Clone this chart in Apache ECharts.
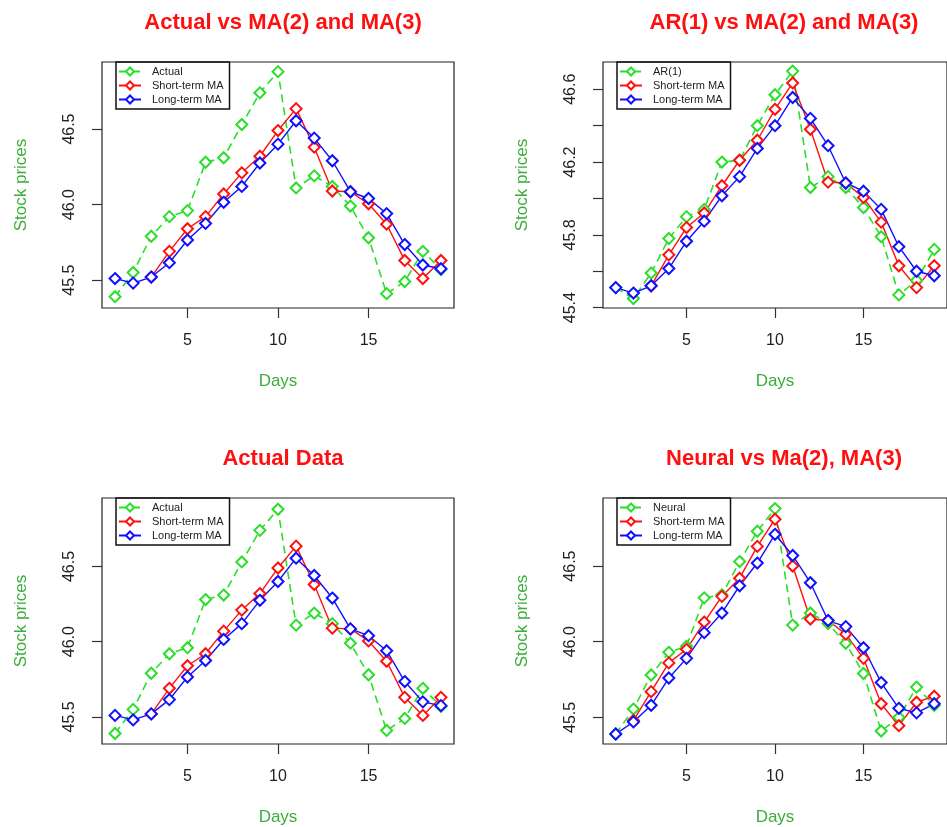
<!DOCTYPE html>
<html>
<head>
<meta charset="utf-8">
<script src="https://cdn.jsdelivr.net/npm/echarts@6/dist/echarts.min.js"></script>
<style>
html,body{margin:0;padding:0;background:#fff;}
#c{width:947px;height:827px;}
</style>
</head>
<body>
<div id="c"></div>
<script>
// ---- data ----
const days = [1,2,3,4,5,6,7,8,9,10,11,12,13,14,15,16,17,18,19];
const actual = [45.39,45.55,45.79,45.92,45.96,46.28,46.31,46.53,46.74,46.88,46.11,46.19,46.12,45.99,45.78,45.41,45.49,45.69,45.57];
const shortMA = [null,null,45.52,45.69,45.84,45.92,46.07,46.21,46.32,46.49,46.635,46.38,46.09,46.085,46.005,45.87,45.63,45.51,45.63];
const longMA = [45.51,45.48,45.52,45.615,45.765,45.875,46.015,46.12,46.275,46.40,46.555,46.44,46.29,46.085,46.04,45.94,45.735,45.60,45.575];
const ar1 = [45.51,45.45,45.59,45.78,45.90,45.94,46.20,46.21,46.40,46.57,46.70,46.06,46.12,46.06,45.95,45.79,45.47,45.55,45.72];
const neural = [45.39,45.555,45.78,45.93,45.97,46.29,46.31,46.53,46.73,46.88,46.11,46.19,46.12,45.99,45.79,45.41,45.50,45.70,45.58];
const shortMA4 = [null,45.48,45.67,45.86,45.95,46.13,46.30,46.42,46.63,46.81,46.50,46.15,46.14,46.05,45.89,45.59,45.445,45.60,45.64];
const longMA4 = [45.39,45.47,45.58,45.76,45.89,46.06,46.19,46.37,46.52,46.71,46.57,46.39,46.14,46.10,45.96,45.73,45.56,45.53,45.59];

const titles = ['Actual vs MA(2) and MA(3)','AR(1) vs MA(2) and MA(3)','Actual Data','Neural vs Ma(2), MA(3)'];
const xTicks = [5,10,15];
const yTicksA = [45.5,46.0,46.5];
const yTicksB = [45.4,45.6,45.8,46.0,46.2,46.4,46.6];
const yLabelsB = [45.4,45.8,46.2,46.6];

// ---- layout ----
const FONT = 'Liberation Sans, Arial, sans-serif';
const GREEN = '#2ade2a', RED = '#ff1010', BLUE = '#1010ff', AXGREEN = '#3aad3a';
const panels = [
  {left:102, top:62, width:352, height:246, ymin:45.315, ymax:46.944, ticks:yTicksA, labels:yTicksA, first:'Actual', firstData:actual, s:shortMA, l:longMA},
  {left:603, top:62, width:354, height:246, ymin:45.398, ymax:46.750, ticks:yTicksB, labels:yLabelsB, first:'AR(1)', firstData:ar1, s:shortMA, l:longMA},
  {left:102, top:498, width:352, height:246, ymin:45.320, ymax:46.955, ticks:yTicksA, labels:yTicksA, first:'Actual', firstData:actual, s:shortMA, l:longMA},
  {left:603, top:498, width:354, height:246, ymin:45.324, ymax:46.950, ticks:yTicksA, labels:yTicksA, first:'Neural', firstData:neural, s:shortMA4, l:longMA4}
];

const pair = arr => days.map((d,i)=>[d,arr[i]]);
const grid=[], xAxis=[], yAxis=[], series=[], title=[], legend=[];
panels.forEach((p,i)=>{
  grid.push({left:p.left, top:p.top, width:p.width, height:p.height, show:true, borderColor:'#222', borderWidth:1.2, backgroundColor:'transparent', containLabel:false});
  xAxis.push({type:'value', gridIndex:i, min:0.28, max:19.72,
    axisLine:{show:false}, splitLine:{show:false},
    axisTick:{show:true, inside:false, length:10, customValues:xTicks, lineStyle:{color:'#333', width:1.2}},
    axisLabel:{show:true, customValues:xTicks, margin:25, fontSize:16, color:'#222', fontFamily:FONT},
    name:'Days', nameLocation:'middle', nameGap:65, nameTextStyle:{fontSize:17, color:AXGREEN, fontFamily:FONT}});
  yAxis.push({type:'value', gridIndex:i, min:p.ymin, max:p.ymax,
    axisLine:{show:false}, splitLine:{show:false},
    axisTick:{show:true, inside:false, length:10, customValues:p.ticks, lineStyle:{color:'#333', width:1.2}},
    axisLabel:{show:true, customValues:p.labels, rotate:90, margin:24, fontSize:16, color:'#222', fontFamily:FONT,
      formatter:v=>Number(v).toFixed(1)},
    name:'Stock prices', nameLocation:'middle', nameGap:72, nameTextStyle:{fontSize:17, color:AXGREEN, fontFamily:FONT}});
  const common = {type:'line', xAxisIndex:i, yAxisIndex:i, symbol:'emptyDiamond', symbolSize:11, animation:false, connectNulls:false};
  series.push(Object.assign({}, common, {name:p.first, data:pair(p.firstData), itemStyle:{color:GREEN, borderWidth:1.2}, lineStyle:{color:GREEN, width:1.6, type:[8,5]}}));
  series.push(Object.assign({}, common, {name:'Short-term MA', data:pair(p.s), itemStyle:{color:RED, borderWidth:1.2}, lineStyle:{color:RED, width:1.4}}));
  series.push(Object.assign({}, common, {name:'Long-term MA', data:pair(p.l), itemStyle:{color:BLUE, borderWidth:1.2}, lineStyle:{color:BLUE, width:1.4}}));
  title.push({text:titles[i], left:p.left + 176, top:p.top - 55, textAlign:'center',
    textStyle:{fontSize:22, fontWeight:'bold', color:RED, fontFamily:FONT}});
  legend.push({orient:'vertical', left:p.left + 14, top:p.top, data:[p.first,'Short-term MA','Long-term MA'],
    borderColor:'#111', borderWidth:1.5, padding:[4,6,4,2], itemGap:3, itemWidth:22, itemHeight:10,
    selectedMode:false, textStyle:{fontSize:11, color:'#222', fontFamily:FONT, padding:[0,0,0,6]}});
});

const chart = echarts.init(document.getElementById('c'), null, {renderer:'canvas'});
chart.setOption({backgroundColor:'#fff', animation:false, title, legend, grid, xAxis, yAxis, series});
</script>
</body>
</html>
